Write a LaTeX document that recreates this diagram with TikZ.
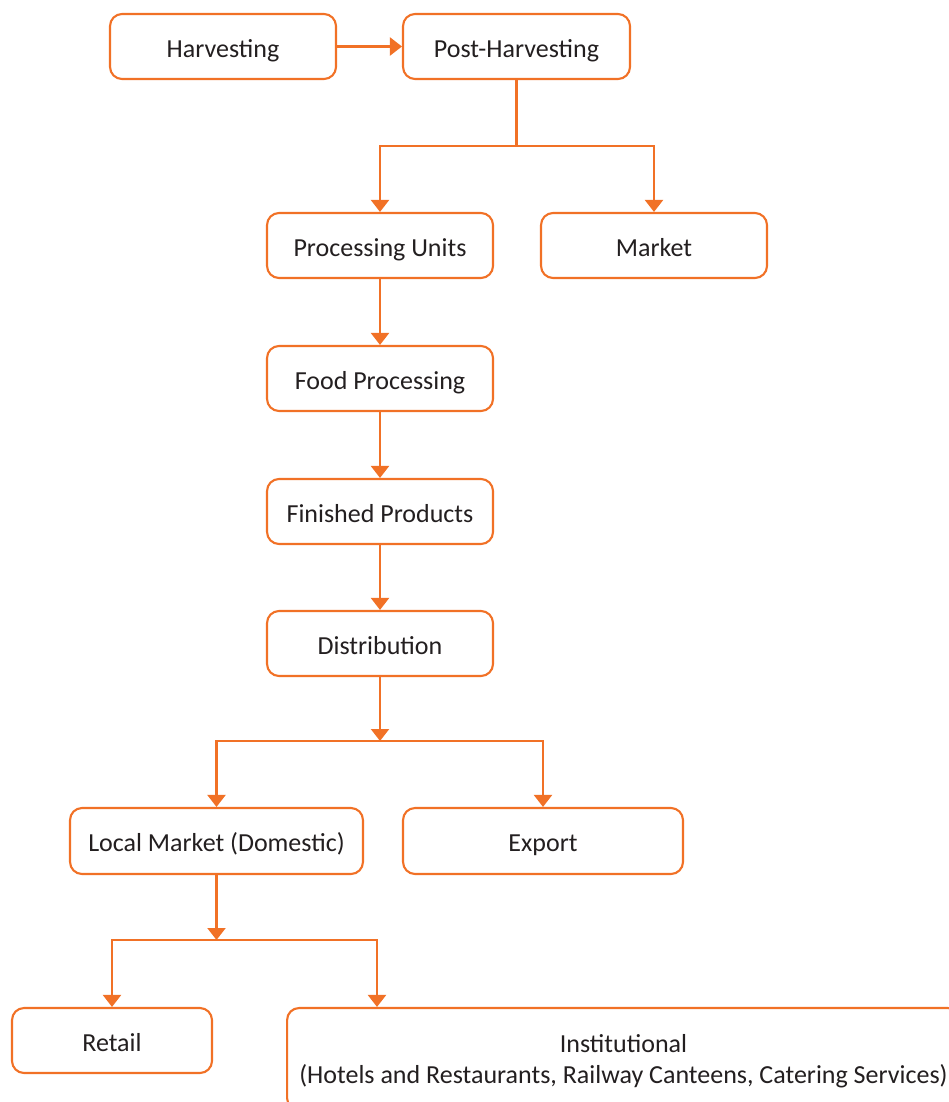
\documentclass[tikz,border=0pt]{standalone}
\usepackage{fontspec}
\setmainfont{Carlito}
\usetikzlibrary{arrows.meta}
\definecolor{orng}{RGB}{241,113,38}
\definecolor{txt}{RGB}{35,31,32}
\tikzset{
  box/.style={draw=orng, line width=1.2pt, rounded corners=0.24cm, fill=white,
    minimum height=1.3cm, text=txt, font=\fontsize{14.8}{17.6}\selectfont, align=center,
    inner sep=0pt, text height=12.2pt, text depth=0pt},
  arr/.style={draw=orng, line width=1.2pt, -{Triangle[width=0.36cm,length=0.24cm]}},
  ln/.style={draw=orng, line width=1.2pt}
}
\begin{document}
\begin{tikzpicture}[x=0.02cm,y=-0.02cm]
\useasboundingbox (0,0) rectangle (949,1102);
\node[box, minimum width=4.52cm] (harv) at (223,46.5) {Harvesting};
\node[box, minimum width=4.54cm] (post) at (516.5,46.5) {Post-Harvesting};
\node[box, minimum width=4.52cm] (proc) at (380,245.5) {Processing Units};
\node[box, minimum width=4.52cm] (market) at (654,245.5) {Market};
\node[box, minimum width=4.52cm] (food) at (380,378.5) {Food Processing};
\node[box, minimum width=4.52cm] (fin) at (380,511.5) {Finished Products};
\node[box, minimum width=4.52cm] (dist) at (380,643.5) {Distribution};
\node[box, minimum width=5.86cm, minimum height=1.32cm] (local) at (216.5,841) {Local Market (Domestic)};
\node[box, minimum width=5.6cm, minimum height=1.32cm] (export) at (543,841) {Export};
\node[box, minimum width=4cm] (retail) at (112,1040.5) {Retail};
\node[box, minimum width=13.46cm, minimum height=2.04cm, text height=, text depth=0pt] (inst) at (623.5,1059) {Institutional\\(Hotels and Restaurants, Railway Canteens, Catering Services)};
\coordinate (j1) at (516.5,146);
\coordinate (j2) at (380,741);
\coordinate (j3) at (216.5,940);
\draw[arr] (harv) -- (post);
\draw[ln] (post.south) -- (j1);
\draw[arr] (j1) -| (proc.north);
\draw[arr] (j1) -| (market.north);
\draw[arr] (proc) -- (food);
\draw[arr] (food) -- (fin);
\draw[arr] (fin) -- (dist);
\draw[arr] (dist.south) -- (j2);
\draw[arr] (j2) -| (local.north);
\draw[arr] (j2) -| (export.north);
\draw[arr] (local.south) -- (j3);
\draw[arr] (j3) -| (retail.north);
\draw[arr] (j3) -| ([xshift=1.82cm]inst.north west);
\end{tikzpicture}
\end{document}
